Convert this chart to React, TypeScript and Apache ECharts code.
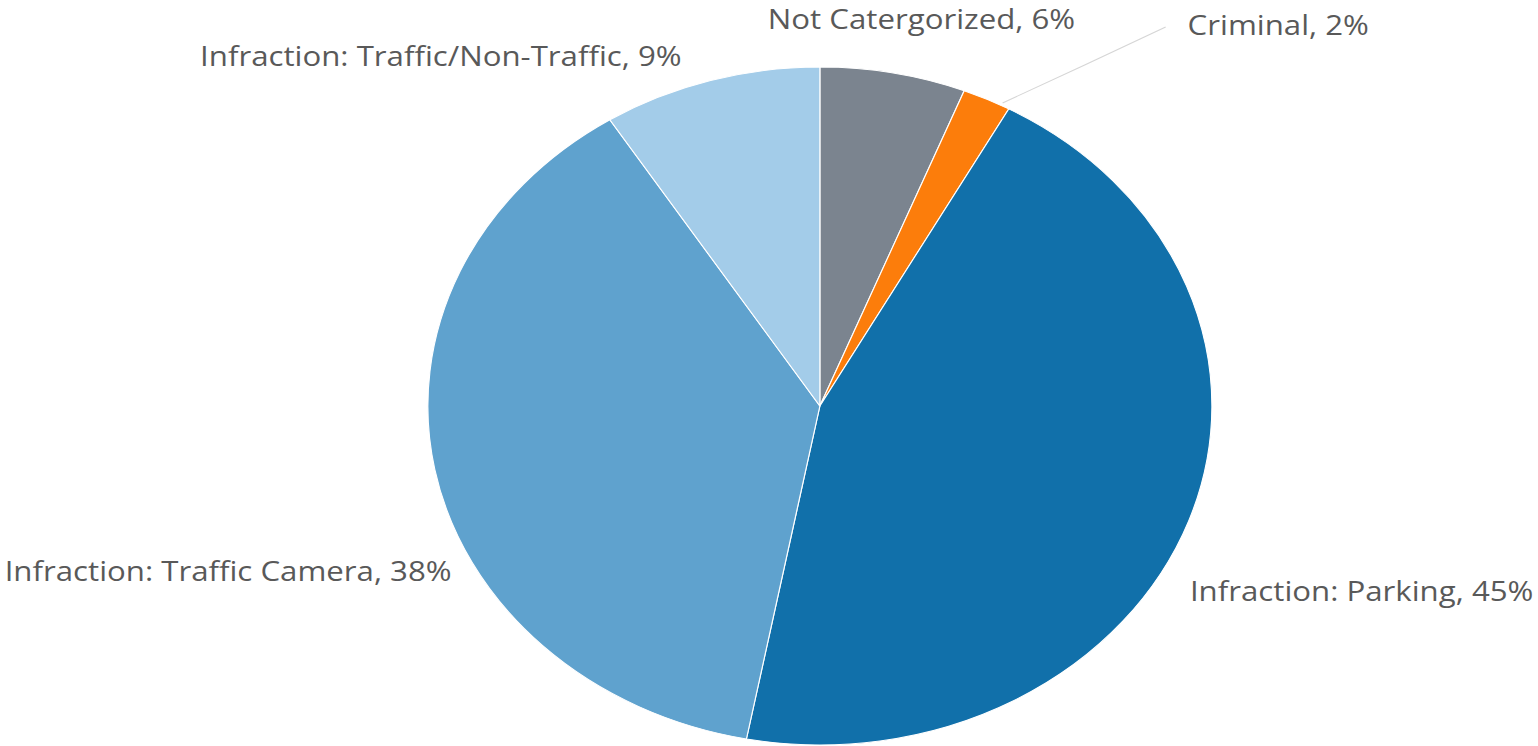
import React, { useEffect, useRef } from "react";
import * as echarts from "echarts";

const categories = [
  "Not Catergorized",
  "Criminal",
  "Infraction: Parking",
  "Infraction: Traffic Camera",
  "Infraction: Traffic/Non-Traffic",
];
const values = [6, 2, 45, 38, 9];
const colors = ["#7b848f", "#fc7d0b", "#1170aa", "#5fa2ce", "#a3cce9"];

const STRETCH = 1538 / 1330;

// label placement (in unstretched chart coordinates)
const labelSpots = [
  { x: 664, y: 19, align: "left" },
  { x: 1027, y: 25, align: "left" },
  { x: 1326, y: 591, align: "right" },
  { x: 4, y: 571, align: "left" },
  { x: 173, y: 56, align: "left" },
];

export default function App() {
  const ref = useRef<HTMLDivElement>(null);
  useEffect(() => {
    if (!ref.current) return;
    const chart = echarts.init(ref.current, null, { renderer: "svg" });
    chart.setOption({
      animation: false,
      backgroundColor: "#ffffff",
      series: [
        {
          type: "pie",
          center: [709, 406],
          radius: 339,
          startAngle: 90,
          clockwise: true,
          itemStyle: { borderColor: "#ffffff", borderWidth: 1 },
          label: {
            show: true,
            formatter: (p: any) => `${p.name}, ${p.value}%`,
            color: "#595959",
            fontFamily: "Open Sans",
            fontSize: 27,
            overflow: "none",
          },
          labelLine: { show: true, lineStyle: { color: "#d6d6d6", width: 1 } },
          labelLayout: (p: any) => {
            const s = labelSpots[p.dataIndex];
            const out: any = {
              x: s.x,
              y: s.y,
              align: s.align,
              verticalAlign: "middle",
              width: 600,
            };
            if (p.dataIndex === 1) {
              out.labelLinePoints = [
                [867, 103],
                [938, 65],
                [1008, 27],
              ];
            }
            return out;
          },
          data: categories.map((name, i) => ({
            name,
            value: values[i],
            itemStyle: { color: colors[i] },
            labelLine: { show: i === 1 },
          })),
        },
      ],
    });
    return () => chart.dispose();
  }, []);
  return (
    <div
      style={{
        position: "absolute",
        left: 0,
        top: 0,
        width: 1538,
        height: 746,
        overflow: "hidden",
        background: "#ffffff",
      }}
    >
      <div
        ref={ref}
        style={{
          width: 1330,
          height: 746,
          transform: `scaleX(${STRETCH})`,
          transformOrigin: "0 0",
        }}
      />
    </div>
  );
}
